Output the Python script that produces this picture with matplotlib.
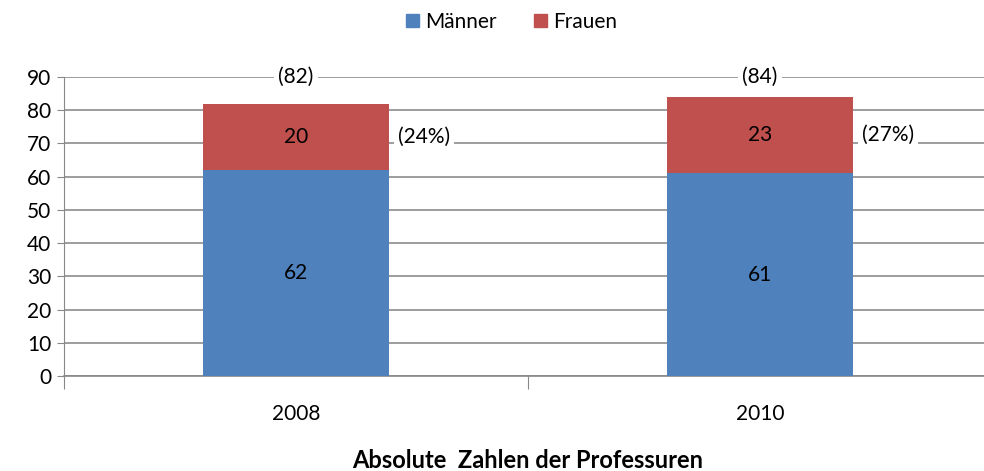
import matplotlib.pyplot as plt
import numpy as np
from matplotlib.patches import Patch

plt.rcParams['font.family'] = ['Lato', 'DejaVu Sans']

years = ['2008', '2010']
maenner = [62, 61]
frauen = [20, 23]
totals = [82, 84]
anteil = ['(24%)', '(27%)']

blue = '#4F81BD'
red = '#C0504D'
fs = 15

fig = plt.figure(figsize=(9.84, 4.71), dpi=100)
ax = fig.add_axes([64 / 984, 1 - 376 / 471, (992 - 64) / 984, (376 - 77) / 471])

x = np.arange(len(years))
w = 0.4
ax.bar(x, maenner, w, color=blue, zorder=3)
ax.bar(x, frauen, w, bottom=maenner, color=red, zorder=3)

for i in range(len(years)):
    ax.text(x[i], maenner[i] / 2, str(maenner[i]), ha='center', va='center', fontsize=fs, zorder=4)
    ax.text(x[i], maenner[i] + frauen[i] / 2, str(frauen[i]), ha='center', va='center', fontsize=fs, zorder=4)
    ax.text(x[i], 90, f'({totals[i]})', ha='center', va='center', fontsize=fs, zorder=4,
            bbox=dict(facecolor='white', edgecolor='none', pad=3))
    ax.text(x[i] + w / 2 + 0.02, maenner[i] + frauen[i] / 2, anteil[i], ha='left', va='center',
            fontsize=fs, zorder=4, bbox=dict(facecolor='white', edgecolor='none', pad=3))

ax.set_xlim(-0.5, 1.5)
ax.set_ylim(0, 90)
ax.set_yticks(range(0, 91, 10))
ax.tick_params(axis='y', labelsize=fs, length=5, color='#888888', pad=4)
ax.set_xticks([-0.5, 0.5, 1.5])
ax.set_xticklabels([])
ax.set_xticks(x, minor=True)
ax.set_xticklabels(years, minor=True, fontsize=fs)
ax.tick_params(axis='x', which='major', length=9, color='#888888', direction='out')
ax.tick_params(axis='x', which='minor', length=0, pad=20)
ax.grid(axis='y', color='#8c8c8c', linewidth=1.2, zorder=0)

for s in ['top', 'right']:
    ax.spines[s].set_visible(False)
ax.spines['left'].set_color('#888888')
ax.spines['bottom'].set_color('#888888')
ax.spines['bottom'].set_linewidth(1.2)

ax.set_xlabel('Absolute  Zahlen der Professuren', fontsize=17, fontweight='bold', labelpad=18)

handles = [Patch(color=blue, label='Männer'), Patch(color=red, label='Frauen')]
fig.legend(handles=handles, loc='center', bbox_to_anchor=(0.52, 1 - 22 / 471), ncol=2,
           frameon=False, fontsize=fs, handlelength=0.6, handleheight=0.6, handletextpad=0.3,
           columnspacing=1.8)

fig.savefig('out.png', dpi=100)
